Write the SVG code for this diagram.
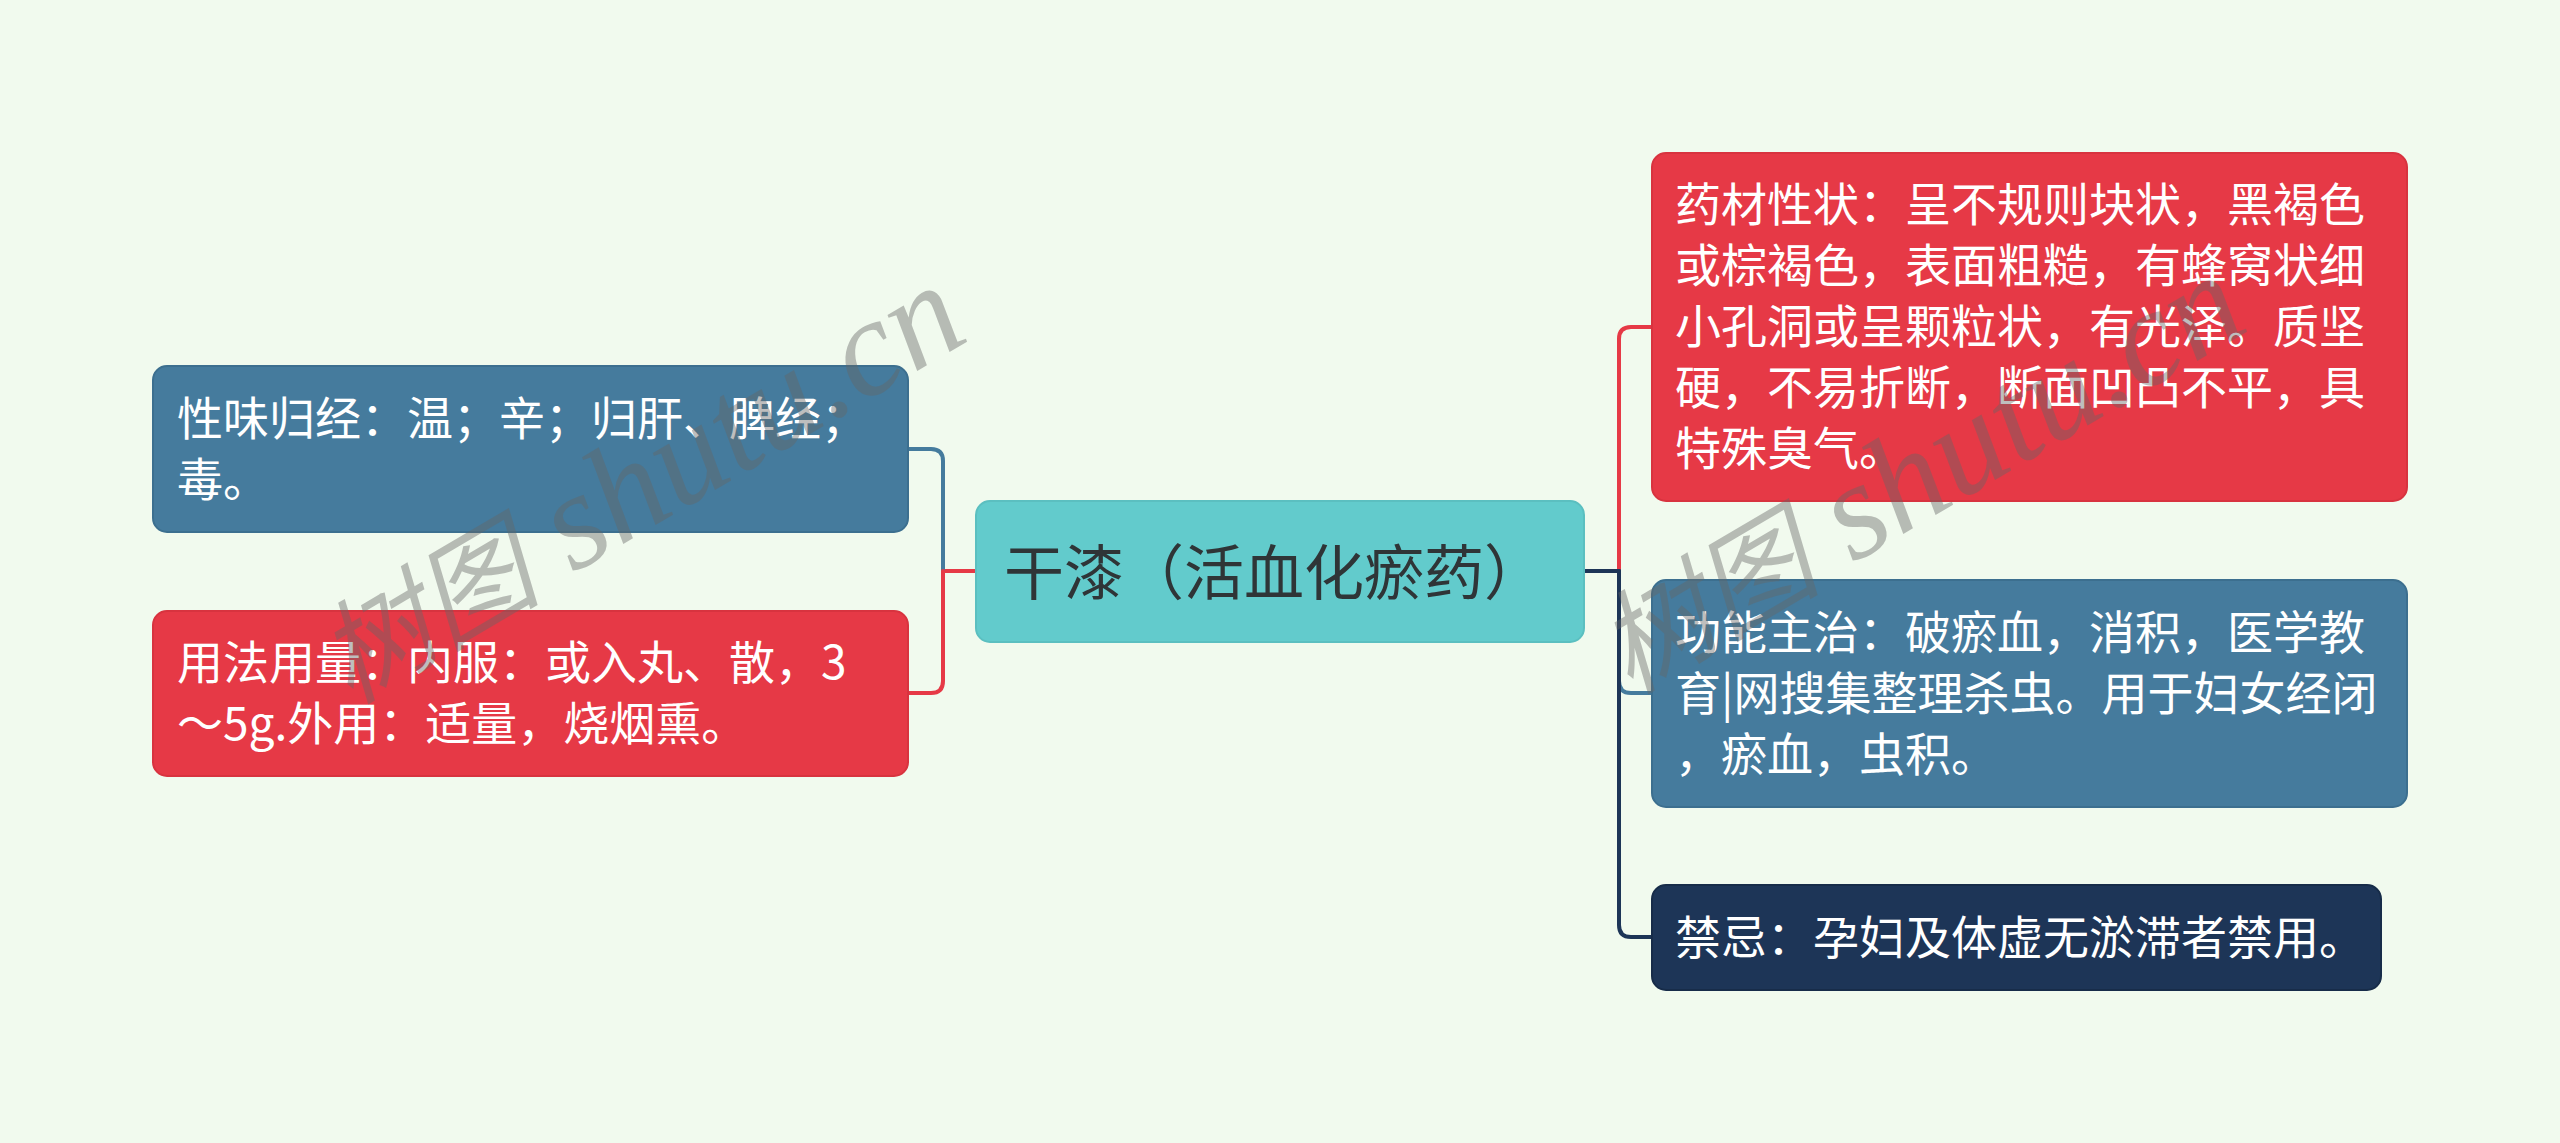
<svg xmlns="http://www.w3.org/2000/svg" width="2560" height="1143" viewBox="0 0 2560 1143">
<style>
.t{font-family:"Noto Sans CJK SC","Noto Sans",sans-serif;font-size:46px;fill:#ffffff}
.c{font-family:"Noto Sans CJK SC","Noto Sans",sans-serif;font-size:60px;fill:#2f3537}
.ln{fill:none;stroke-width:4;stroke-linecap:round}
.wm{font-family:"Liberation Serif","Noto Sans CJK SC",serif;font-style:italic;fill:#666666;opacity:0.42}
</style>
<rect x="0" y="0" width="2560" height="1143" fill="#F1FAEE"/>
<g id="connectors">
<path class="ln" stroke="#E63946" d="M976 571 H943"/>
<path class="ln" stroke="#457B9D" d="M943 571 V461 Q943 449 931 449 H908"/>
<path class="ln" stroke="#E63946" d="M943 571 V681 Q943 693 931 693 H908"/>
<path class="ln" stroke="#E63946" d="M1619 571 V339 Q1619 327 1631 327 H1652"/>
<path class="ln" stroke="#457B9D" d="M1619 571 V681 Q1619 693 1631 693 H1652"/>
<path class="ln" stroke="#1D3557" d="M1619 571 V925 Q1619 937 1631 937 H1652"/>
<path class="ln" stroke="#1D3557" d="M1584 571 H1619"/>
</g>
<g id="center">
<rect x="976" y="501" width="608" height="141" rx="14" fill="#62CBCC" stroke="#5bbfc0" stroke-width="2"/>
<text class="c" x="1004" y="595">干漆（活血化瘀药）</text>
</g>
<g id="left1">
<rect x="153" y="366" width="755" height="166" rx="14" fill="#457B9D" stroke="#3c6f8f" stroke-width="2"/>
<text class="t" x="177" y="435">性味归经：温；辛；归肝、脾经；</text>
<text class="t" x="177" y="496">毒。</text>
</g>
<g id="left2">
<rect x="153" y="611" width="755" height="165" rx="14" fill="#E63946" stroke="#d8333f" stroke-width="2"/>
<text class="t" x="177" y="679">用法用量：内服：或入丸、散，3</text>
<text class="t" x="177" y="740">～5g.外用：适量，烧烟熏。</text>
</g>
<g id="right1">
<rect x="1652" y="153" width="755" height="348" rx="14" fill="#E63946" stroke="#d8333f" stroke-width="2"/>
<text class="t" x="1675" y="221">药材性状：呈不规则块状，黑褐色</text>
<text class="t" x="1675" y="282">或棕褐色，表面粗糙，有蜂窝状细</text>
<text class="t" x="1675" y="343">小孔洞或呈颗粒状，有光泽。质坚</text>
<text class="t" x="1675" y="404">硬，不易折断，断面凹凸不平，具</text>
<text class="t" x="1675" y="465">特殊臭气。</text>
</g>
<g id="right2">
<rect x="1652" y="580" width="755" height="227" rx="14" fill="#457B9D" stroke="#3c6f8f" stroke-width="2"/>
<text class="t" x="1675" y="649">功能主治：破瘀血，消积，医学教</text>
<text class="t" x="1675" y="710">育|网搜集整理杀虫。用于妇女经闭</text>
<text class="t" x="1675" y="771">，瘀血，虫积。</text>
</g>
<g id="right3">
<rect x="1652" y="885" width="729" height="105" rx="14" fill="#1D3557" stroke="#172c49" stroke-width="2"/>
<text class="t" x="1675" y="954">禁忌：孕妇及体虚无淤滞者禁用。</text>
</g>
<g id="watermarks">
<text class="wm" x="350" y="705" transform="rotate(-30.5 350 705)"><tspan font-size="112">树图</tspan><tspan font-size="138"> shutu.cn</tspan></text>
<text class="wm" x="1630" y="695" transform="rotate(-30.5 1630 695)"><tspan font-size="112">树图</tspan><tspan font-size="138"> shutu.cn</tspan></text>
</g>
</svg>
